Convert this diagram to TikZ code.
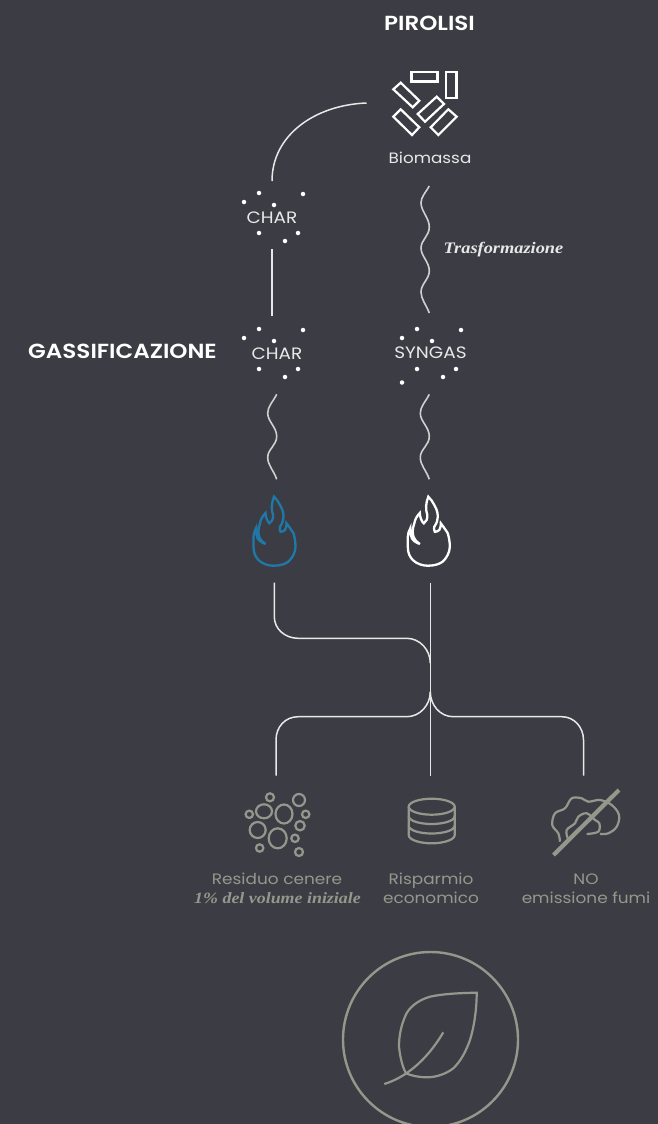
\documentclass[tikz,border=0pt]{standalone}
\usepackage{fontspec}
\setmainfont[FakeStretch=1.12]{Poppins}
\newfontfamily\headfont[FakeStretch=1.13]{Poppins SemiBold}
\newfontfamily\serifit[FakeStretch=1.14]{Liberation Serif}
\definecolor{bgc}{HTML}{3C3D44}
\definecolor{linec}{HTML}{E8E8E8}
\definecolor{wavec}{HTML}{CFCFCF}
\definecolor{grayc}{HTML}{96978C}
\definecolor{bluec}{HTML}{1F78A8}
\tikzset{
 conn/.style={draw=linec,line width=1.5pt,line cap=butt},
 wavy/.style={draw=wavec,line width=1.6pt},
 head/.style={text=white,font=\headfont\fontsize{20.4}{20.4}\selectfont,inner sep=0pt},
 lab/.style={text=linec,font=\fontsize{15}{15}\selectfont,inner sep=0pt},
 caplab/.style={text=linec,font=\fontsize{16.5}{16.5}\selectfont,inner sep=0pt},
 glab/.style={text=grayc,font=\fontsize{15.1}{19.5}\selectfont,inner sep=0pt,align=center},
 serifa/.style={font=\serifit\fontsize{16.1}{16.1}\selectfont\bfseries\itshape,inner sep=0pt},
 serifb/.style={font=\serifit\fontsize{15.7}{15.7}\selectfont\bfseries\itshape,inner sep=0pt},
 ico/.style={draw=white,line width=2.2pt,line join=miter},
 gico/.style={draw=grayc,line width=2.2pt},
 dot/.style={circle,fill=white,inner sep=0pt,minimum size=4.5pt},
 wave/.pic={\draw[wavy] (0,0) .. controls (-4,8) and (-9,12) .. (-9,19) .. controls (-9,27) and (0,33) .. (0,42) .. controls (0,51) and (-9,55) .. (-9,63) .. controls (-9,71) and (-3,76) .. (0,85);},
 wavelong/.pic={\draw[wavy] (0,0) .. controls (-4,7) and (-8.3,11) .. (-8.3,17) .. controls (-8.3,25) and (0,32) .. (0,41) .. controls (0,50) and (-8.3,54) .. (-8.3,62) .. controls (-8.3,70) and (0,76) .. (0,85) .. controls (0,93) and (-8.3,98) .. (-8.3,106) .. controls (-8.3,113) and (-3,119) .. (0,127);},
 dots/.pic={\foreach \a/\b in {-28/-9,-13/-18,31/-17,2/-6,-13/22,26/22,13/30}{\node[dot] at (\a,\b) {};}},
 flame/.pic={\draw[line width=2.3pt,line join=miter,miter limit=6,pic actions]
   (-0.5,-44.3) .. controls (-3,-38) and (-3.5,-32) .. (-1.5,-26) .. controls (-1,-22) and (-3,-19) .. (-5,-17.7)
   .. controls (-7,-19) and (-9,-24) .. (-9,-28) .. controls (-12,-25) and (-14,-21) .. (-14.5,-17.7)
   .. controls (-16.5,-12) and (-16.5,-7) .. (-15,-3.5) .. controls (-14,-1) and (-12,1) .. (-9,3)
   .. controls (-13,1.5) and (-16,-0.5) .. (-17,-3) .. controls (-18.5,-6) and (-18.5,-9) .. (-18.5,-12.7)
   .. controls (-20,-10) and (-21,-7) .. (-21,-4.3) -- (-21,5.7)
   .. controls (-21,12) and (-19,16) .. (-16,19) .. controls (-12,23) and (-6,24.7) .. (-1,24.7)
   .. controls (5,24.7) and (10,23.5) .. (13.8,20.7) .. controls (18,17) and (21,11) .. (21,5.7)
   .. controls (21,0) and (20,-4) .. (19,-7.7) .. controls (17,-11) and (14,-15) .. (12,-17.7)
   .. controls (12,-14) and (11,-12) .. (10.5,-11) .. controls (9,-9.5) and (7,-9) .. (6,-9.3)
   .. controls (5,-11) and (5,-13) .. (5.5,-14.3) .. controls (8,-18) and (9,-21) .. (9,-24.3)
   .. controls (9,-30) and (7,-33) .. (5.5,-36) .. controls (4,-39) and (2,-42) .. (-0.5,-44.3) -- cycle;},
}
\begin{document}
\begin{tikzpicture}[x=1pt,y=-1pt]
\useasboundingbox[fill=bgc] (0,0) rectangle (658,1124);

\node[head] (pirolisi) at (429.5,23) {PIROLISI};
\node[head] (gass) at (122.5,351) {GASSIFICAZIONE};

% biomass icon
\draw[ico] (411.5,72) rectangle (437.5,81.5);
\draw[ico] (446,72) rectangle (456.5,98);
\draw[ico] (400.7,82.7) -- (393.3,89.3) -- (412.7,107.3) -- (419.3,100.7) -- cycle;
\draw[ico] (393.3,116.7) -- (400.7,109.3) -- (419.3,127.3) -- (412,135) -- cycle;
\draw[ico] (436.7,96.7) -- (444,104) -- (425,121.7) -- (417.7,114) -- cycle;
\draw[ico] (448.3,109.3) -- (456.7,116.7) -- (438.3,135) -- (430.7,127.3) -- cycle;
\node[lab] (bio) at (430,157.5) {Biomassa};
\coordinate (bioL) at (366.5,103);

% char 1
\node[caplab] (char1) at (272,218) {CHAR};
\path (272,211) pic {dots};
\coordinate (c1top) at (272,181);
\coordinate (c1bot) at (272,249);
\coordinate (c2top) at (272,316);
\draw[conn] (bioL) .. controls (315,105) and (272,135) .. (c1top);
\node[caplab] (char2) at (277,354) {CHAR};
\path (272,347) pic {dots};
\draw[conn] (c1bot) -- (c2top);
\coordinate (w1) at (429.3,186);
\path (w1) pic {wavelong};
\node[serifa,text=linec] (tr) at (503.5,249.5) {Trasformazione};

\node[caplab] (syngas) at (430.5,353) {SYNGAS};
\path (430,347) pic {dots};
\node[dot] (sdot) at (402,382.5) {};

\coordinate (w2) at (276.7,394.3);
\coordinate (w3) at (429.3,394.3);
\path (w2) pic {wave};
\path (w3) pic {wave};

\coordinate (f1) at (274.5,541);
\coordinate (f2) at (428.8,541);
\path (f1) pic[draw=bluec] {flame};
\path (f2) pic[draw=white] {flame};

% junction
\coordinate (fa) at (274.3,582.5);
\coordinate (fb) at (430.3,582.5);
\coordinate (j) at (430.3,691.7);
\coordinate (d1) at (276,775.5);
\coordinate (d2) at (430.3,775.5);
\coordinate (d3) at (583.5,775.5);
\draw[conn] (fa) -- (274.3,616.7) .. controls (274.3,629) and (285,638.3) .. (298.3,638.3) -- (406.7,638.3) .. controls (420,638.3) and (430.3,650) .. (430.3,663.3);
\draw[conn] (fb) -- (d2);
\draw[conn] (j) .. controls (430.3,705) and (420,716.7) .. (406.7,716.7) -- (298.3,716.7) .. controls (285,716.7) and (276,727) .. (276,740) -- (d1);
\draw[conn] (j) .. controls (430.3,705) and (440,716.7) .. (453.3,716.7) -- (561.7,716.7) .. controls (574,716.7) and (583.5,727) .. (583.5,740) -- (d3);

% ash
\foreach \x/\y/\r/\s in {270/797.3/4/4, 299/800/6/6, 264/811.3/8/7, 284/814/8.5/9.5, 249.3/814.3/3.7/3.7, 305.7/814.3/3.7/3.7, 300/825.7/4.7/4.7, 257.7/830/8/8, 277.7/838.3/9/10, 295/838.3/3.7/3.7, 259.7/848/3.7/3.7, 299/852/4/4}
  {\draw[gico] (\x,\y) ellipse [x radius=\r,y radius=\s];}
\node[glab] (resid) at (277,878.5) {Residuo cenere};
\node[serifb,text=grayc] (vol) at (277.5,898.5) {1\% del volume iniziale};

% coins
\draw[gico] (431.7,806.7) ellipse [x radius=23,y radius=8];
\draw[gico] (408.7,806.7) -- (408.7,835) .. controls (408.7,840) and (420,843.3) .. (431.7,843.3) .. controls (443,843.3) and (454.7,840) .. (454.7,835) -- (454.7,806.7);
\draw[gico] (408.7,816) .. controls (408.7,821) and (420,824) .. (431.7,824) .. controls (443,824) and (454.7,821) .. (454.7,816);
\draw[gico] (408.7,825.5) .. controls (408.7,830.5) and (420,833.5) .. (431.7,833.5) .. controls (443,833.5) and (454.7,830.5) .. (454.7,825.5);
\node[glab] (risp) at (431,888.5) {Risparmio\\economico};

% smoke
\draw[gico] plot[smooth,tension=0.6] coordinates {(560,841.7) (558.3,833.3) (552.3,825) (555,813.3) (565,808.3) (571.7,798.3) (581.7,798.3) (588.3,801.7) (600,800) (611.7,805) (619,815) (616.7,826.7) (608.3,833.3) (600,834)};
\draw[gico] plot[smooth,tension=0.6] coordinates {(567.7,838.3) (566.7,830) (575,823.3) (578.3,816.7) (586.7,813.3) (595,820) (599.3,823.3) (598.3,831.7) (586.7,834)};
\draw[draw=grayc,line width=4.2pt] (553.5,855) -- (619,790);
\node[glab] (fumi) at (586,888.5) {NO\\emissione fumi};

% leaf
\node[circle,draw=grayc,line width=2.4pt,minimum size=175pt,inner sep=0pt] (ring) at (430.5,1039.5) {};
\draw[gico] (476.7,992.7) .. controls (458,993) and (442,994) .. (430,996.7) .. controls (418,1000) and (408,1008) .. (405,1016.7) .. controls (401,1026) and (399,1036) .. (399,1046.7) .. controls (400,1056) and (402,1066) .. (406,1073.3) .. controls (412,1076) and (420,1077.3) .. (426.7,1077.3) .. controls (436,1077.3) and (446,1074) .. (453.3,1068.3) .. controls (461,1061) and (466,1051) .. (470,1040) .. controls (474,1027) and (476.7,1010) .. (476.7,992.7) -- cycle;
\draw[gico] (384.3,1084) .. controls (410,1076) and (430,1055) .. (443.3,1032.3);
\end{tikzpicture}
\end{document}
